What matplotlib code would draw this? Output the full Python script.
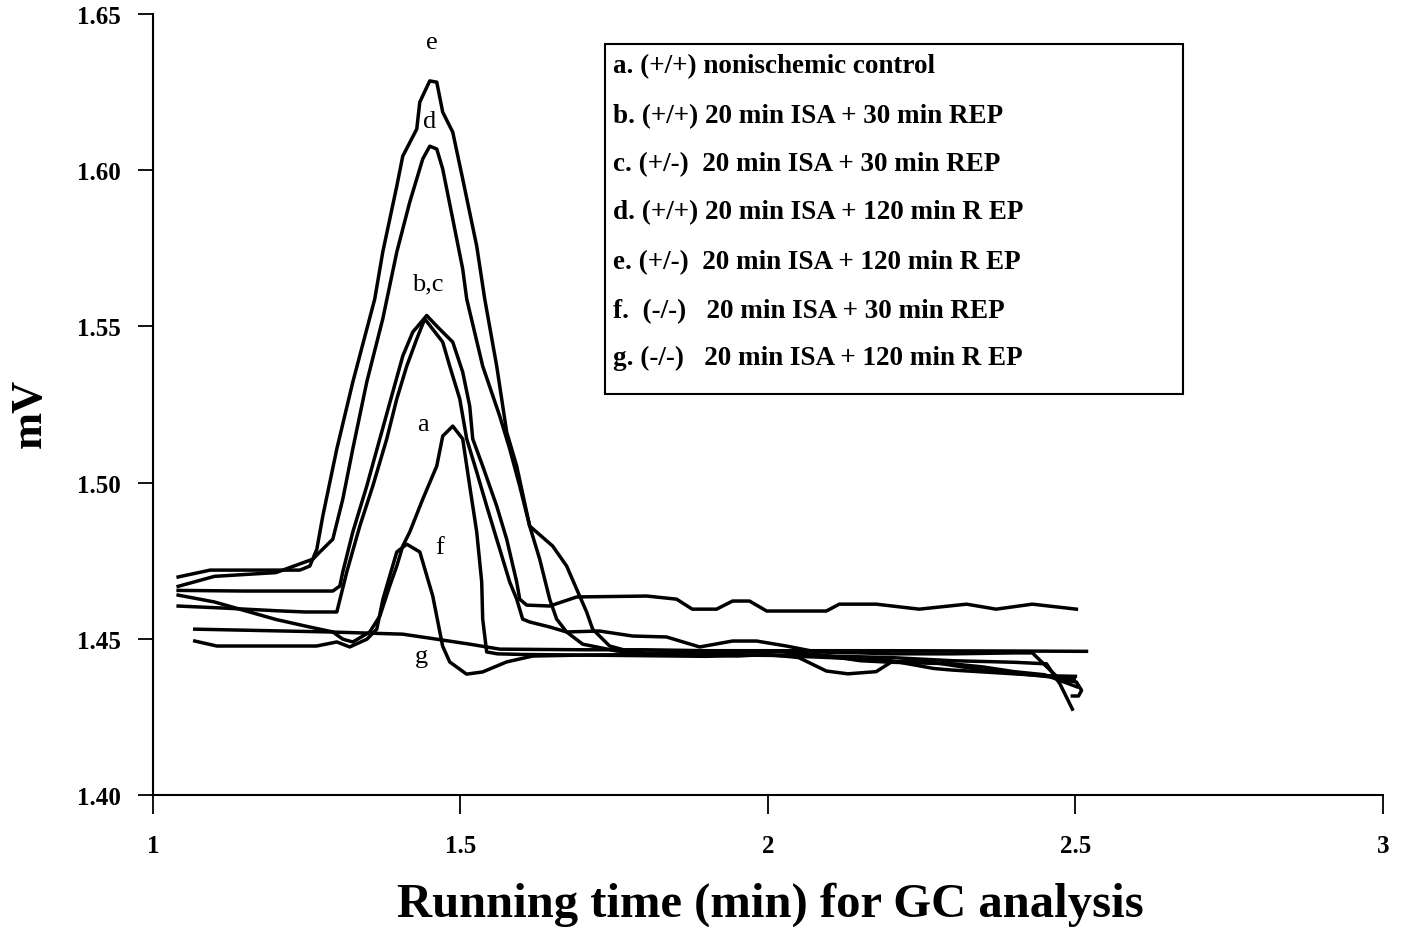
import matplotlib
matplotlib.use("Agg")
from matplotlib import pyplot as plt
from matplotlib.patches import Rectangle

plt.rcParams['font.family'] = ['Liberation Serif', 'DejaVu Serif']

# GC traces, running time (min) vs signal (mV)
a_x = [1.041, 1.10, 1.15, 1.20, 1.25, 1.2925, 1.3087, 1.325, 1.3526, 1.369, 1.385,
       1.3965, 1.4062, 1.4176, 1.4387, 1.4615, 1.4712, 1.4875, 1.5037, 1.5151, 1.5265,
       1.5346, 1.5362, 1.5427, 1.56, 1.60, 1.70, 1.80, 1.90, 1.95, 2.0, 2.1, 2.2, 2.3,
       2.4, 2.453, 2.475, 2.495]
a_y = [1.4640, 1.4618, 1.4590, 1.4562, 1.4540, 1.4522, 1.4499, 1.4490, 1.4522, 1.4573,
       1.4669, 1.4733, 1.4797, 1.4842, 1.4947, 1.5053, 1.5149, 1.5181, 1.5140, 1.4989,
       1.4842, 1.4682, 1.4563, 1.4458, 1.4452, 1.4450, 1.4448, 1.4446, 1.4444, 1.4448,
       1.4447, 1.4445, 1.4440, 1.4430, 1.4425, 1.4420, 1.4355, 1.4275]

b_x = [1.041, 1.15, 1.25, 1.2925, 1.3039, 1.3087, 1.325, 1.3477, 1.3689, 1.39, 1.4062,
       1.4225, 1.4452, 1.4615, 1.4875, 1.5037, 1.5151, 1.52, 1.5362, 1.559, 1.5752,
       1.5915, 1.5964, 1.6077, 1.6451, 1.689, 1.803, 1.8515, 1.877, 1.9165, 1.9425,
       1.970, 1.998, 2.095, 2.116, 2.176, 2.246, 2.323, 2.371, 2.430, 2.5015]
b_y = [1.4655, 1.4653, 1.4653, 1.4653, 1.4669, 1.4714, 1.4842, 1.4989, 1.5140, 1.5290,
       1.5405, 1.5482, 1.5535, 1.5501, 1.5450, 1.5354, 1.5245, 1.5140, 1.5053, 1.4925,
       1.4819, 1.4682, 1.4627, 1.4608, 1.4605, 1.4634, 1.4637, 1.4627, 1.4595, 1.4595,
       1.4621, 1.4621, 1.4589, 1.4589, 1.4611, 1.4611, 1.4595, 1.4611, 1.4595, 1.4611,
       1.4595]

c_x = [1.041, 1.12, 1.20, 1.247, 1.299, 1.3152, 1.3364, 1.3575, 1.3802, 1.3965, 1.4127,
       1.429, 1.442, 1.4712, 1.4826, 1.4989, 1.5102, 1.5265, 1.5427, 1.559, 1.5801,
       1.5915, 1.6012, 1.6126, 1.6451, 1.6727, 1.726, 1.780, 1.835, 1.889, 1.9425,
       1.9815, 2.030, 2.079, 2.15, 2.2, 2.3, 2.4, 2.43, 2.474, 2.5015, 2.51, 2.505,
       2.495]
c_y = [1.4605, 1.4598, 1.4590, 1.4586, 1.4586, 1.4714, 1.4861, 1.4989, 1.5140, 1.5268,
       1.5373, 1.5460, 1.5524, 1.5450, 1.5373, 1.5268, 1.5140, 1.5034, 1.4925, 1.4819,
       1.4682, 1.4627, 1.4563, 1.4554, 1.4538, 1.4522, 1.4525, 1.4509, 1.4506, 1.4474,
       1.4493, 1.4493, 1.4477, 1.4458, 1.4455, 1.4452, 1.4452, 1.4455, 1.4455, 1.4371,
       1.4362, 1.4335, 1.4317, 1.4317]

d_x = [1.041, 1.10, 1.20, 1.26, 1.2714, 1.2925, 1.3087, 1.325, 1.3477, 1.3737, 1.3965,
       1.4176, 1.4387, 1.4501, 1.4615, 1.4712, 1.4875, 1.5037, 1.5102, 1.5362, 1.5639,
       1.5801, 1.5964, 1.6126, 1.6289, 1.6451, 1.6565, 1.6727, 1.6987, 1.754, 1.80,
       1.90, 2.0, 2.05, 2.10, 2.15, 2.20, 2.25, 2.30, 2.35, 2.40, 2.45, 2.498]
d_y = [1.4668, 1.4700, 1.4712, 1.4755, 1.4778, 1.4819, 1.4947, 1.5108, 1.5322, 1.5524,
       1.5738, 1.5898, 1.6036, 1.6077, 1.6068, 1.6004, 1.5844, 1.5684, 1.5588, 1.5373,
       1.5213, 1.5108, 1.4989, 1.4861, 1.4755, 1.4627, 1.4563, 1.4522, 1.4483, 1.4461,
       1.4455, 1.4455, 1.4460, 1.4455, 1.4445, 1.4430, 1.4425, 1.4430, 1.4415, 1.4400,
       1.4390, 1.4380, 1.4370]

e_x = [1.041, 1.093, 1.2389, 1.2551, 1.2665, 1.2762, 1.299, 1.325, 1.3607, 1.3737,
       1.3965, 1.4062, 1.429, 1.4339, 1.4501, 1.4615, 1.4712, 1.4875, 1.5037, 1.5265,
       1.5395, 1.559, 1.5752, 1.5915, 1.6126, 1.65, 1.6727, 1.689, 1.7052, 1.715,
       1.7426, 1.7914, 1.85, 1.95, 2.0, 2.05, 2.095, 2.13, 2.176, 2.2, 2.3, 2.35, 2.4,
       2.45, 2.503]
e_y = [1.4698, 1.4720, 1.4720, 1.4733, 1.4787, 1.4893, 1.5108, 1.5322, 1.5588, 1.5738,
       1.5949, 1.6045, 1.6132, 1.6218, 1.6286, 1.6282, 1.6186, 1.6122, 1.5972, 1.5757,
       1.5588, 1.5373, 1.5162, 1.5053, 1.4861, 1.4797, 1.4733, 1.4659, 1.4586, 1.4531,
       1.4477, 1.4451, 1.4448, 1.4445, 1.4450, 1.4440, 1.4397, 1.4388, 1.4395, 1.4425,
       1.4420, 1.4410, 1.4395, 1.4385, 1.4346]

f_x = [1.068, 1.104, 1.20, 1.266, 1.299, 1.320, 1.348, 1.364, 1.374, 1.3965, 1.4127,
       1.434, 1.455, 1.471, 1.4826, 1.510, 1.536, 1.575, 1.6175, 1.70, 1.80, 1.90, 2.0,
       2.1, 2.2, 2.27, 2.3, 2.4, 2.45, 2.5]
f_y = [1.4493, 1.4477, 1.4477, 1.4477, 1.4490, 1.4474, 1.4499, 1.4531, 1.4627, 1.4778,
       1.4803, 1.4778, 1.4637, 1.4477, 1.4426, 1.4387, 1.4394, 1.4426, 1.4445, 1.4448,
       1.4450, 1.4450, 1.4448, 1.4440, 1.4430, 1.4405, 1.4400, 1.4388, 1.4382, 1.4380]

g_x = [1.068, 1.2875, 1.406, 1.461, 1.515, 1.564, 1.70, 1.80, 1.90, 2.0, 2.2, 2.4, 2.518]
g_y = [1.4531, 1.4522, 1.4515, 1.4499, 1.4483, 1.4467, 1.4465, 1.4465, 1.4462, 1.4462,
       1.4462, 1.4461, 1.4460]

legend_lines = [
    "a. (+/+) nonischemic control",
    "b. (+/+) 20 min ISA + 30 min REP",
    "c. (+/-)  20 min ISA + 30 min REP",
    "d. (+/+) 20 min ISA + 120 min R EP",
    "e. (+/-)  20 min ISA + 120 min R EP",
    "f.  (-/-)   20 min ISA + 30 min REP",
    "g. (-/-)   20 min ISA + 120 min R EP",
]

curve_labels = ["e", "d", "b,c", "a", "f", "g"]
label_x = [1.4534, 1.450, 1.447, 1.439, 1.466, 1.437]
label_y = [1.641, 1.6157, 1.5636, 1.5188, 1.4794, 1.4445]

x_ticks = [1, 1.5, 2, 2.5, 3]
x_ticklabels = ["1", "1.5", "2", "2.5", "3"]
y_ticks = [1.40, 1.45, 1.50, 1.55, 1.60, 1.65]
y_ticklabels = ["1.40", "1.45", "1.50", "1.55", "1.60", "1.65"]

fig = plt.figure(figsize=(14.03, 9.28), dpi=100)
ax = fig.add_axes([0.109, 0.1422, 0.8767, 0.8416])

for xs, ys in [(a_x, a_y), (b_x, b_y), (c_x, c_y), (d_x, d_y),
               (e_x, e_y), (f_x, f_y), (g_x, g_y)]:
    ax.plot(xs, ys, color='black', lw=2.5, solid_joinstyle='round')

for lab, lx, ly in zip(curve_labels, label_x, label_y):
    ax.text(lx, ly, lab, fontsize=19, ha='center', va='center')

ax.set_xlim(1, 3)
ax.set_ylim(1.40, 1.65)
ax.set_xticks(x_ticks)
ax.set_xticklabels(x_ticklabels, fontsize=18, fontweight='bold')
ax.set_yticks(y_ticks)
ax.set_yticklabels(y_ticklabels, fontsize=18, fontweight='bold')
ax.tick_params(axis='x', direction='out', length=14, width=1.3, pad=14)
ax.tick_params(axis='y', direction='out', length=11, width=1.3, pad=12)
for s in ['top', 'right']:
    ax.spines[s].set_visible(False)
for s in ['left', 'bottom']:
    ax.spines[s].set_linewidth(1.5)

# legend box
ax.add_patch(Rectangle((0.3675, 0.5134), 0.4699, 0.4482, transform=ax.transAxes,
                       fill=False, edgecolor='black', lw=1.5))
row_y = [0.9334, 0.8694, 0.8080, 0.7465, 0.6825, 0.6197, 0.5608]
for txt, yy in zip(legend_lines, row_y):
    ax.text(0.374, yy, txt, transform=ax.transAxes, fontsize=19.5,
            fontweight='bold', ha='left', va='center')

fig.text(0.021, 0.555, "mV", rotation=90, fontsize=32, fontweight='bold',
         ha='center', va='center')
fig.text(0.549, 0.025, "Running time (min) for GC analysis", fontsize=35,
         fontweight='bold', ha='center', va='center')

fig.savefig("out.png", dpi=100)
